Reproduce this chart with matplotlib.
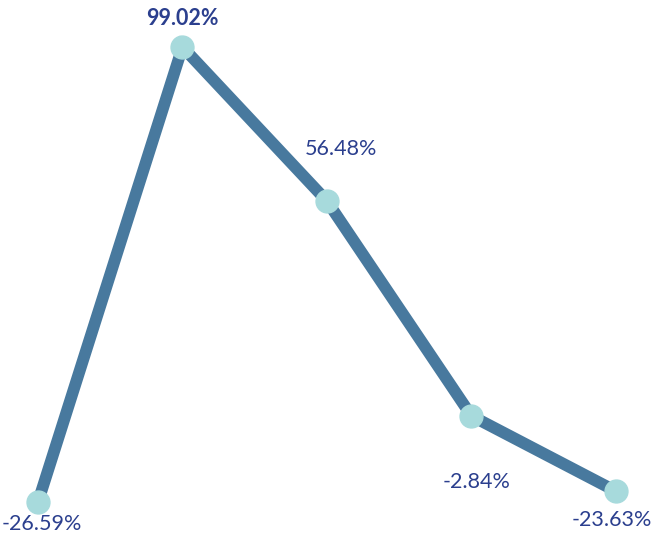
import matplotlib
matplotlib.use("Agg")
import matplotlib.pyplot as plt

# data
periods = [0, 1, 2, 3, 4]
changes = [-26.59, 99.02, 56.48, -2.84, -23.63]
labels = ["-26.59%", "99.02%", "56.48%", "-2.84%", "-23.63%"]

line_color = "#48799e"
dot_color = "#a7dadc"
text_color = "#2b3f8e"

# label offsets in pixels (dx, dy)
offsets = [(4, -22), (0, 29), (14, 52), (5, -66), (-4, -29)]

fig = plt.figure(figsize=(6.56, 5.51), dpi=100)
ax = fig.add_axes([0, 0, 1, 1])
ax.plot(periods, changes, color=line_color, linewidth=8.5, solid_capstyle="butt",
        solid_joinstyle="miter", zorder=2)
ax.plot(periods, changes, "o", color=dot_color, markersize=16.5, zorder=3)

for i, (x, y) in enumerate(zip(periods, changes)):
    bold = y == max(changes)
    ax.annotate(labels[i], (x, y), xytext=offsets[i], textcoords="offset pixels",
                ha="center", va="center", fontsize=15.5, color=text_color,
                family="Lato", fontweight="bold" if bold else "normal")

ax.set_xlim(-0.263, 4.277)
ax.set_ylim(-40.13, 112.0)
ax.axis("off")
fig.savefig("out.png", dpi=100)
